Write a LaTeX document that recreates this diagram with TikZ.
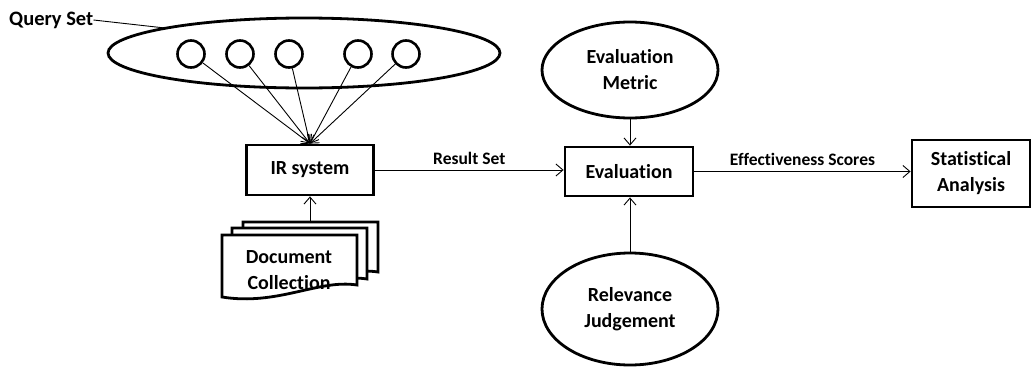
\documentclass[tikz,border=0pt]{standalone}
\usepackage{fontspec}
\setmainfont{Carlito}[Ligatures=NoCommon]
\usetikzlibrary{shapes.geometric,arrows.meta}
\begin{document}
\begin{tikzpicture}[x=1pt,y=-1pt,
  every node/.style={font=\bfseries},
  box/.style={draw,line width=2.8pt,fill=white,align=center,inner sep=0pt},
  oval/.style={draw,ellipse,line width=2.8pt,align=center,inner sep=0pt},
  qc/.style={draw,circle,line width=2.6pt,minimum size=27pt,inner sep=0pt},
  conn/.style={line width=0.9pt,-{Straight Barb[length=7pt,width=12pt,line width=0.9pt]}},
  lbl/.style={font=\fontsize{17.5}{20}\selectfont\bfseries},
  big/.style={font=\fontsize{20}{26}\selectfont\bfseries},
  doc/.style={draw,line width=2.8pt,fill=white,line join=miter}]
\useasboundingbox (0,0) rectangle (1032,367);

% Query set
\node[oval,minimum width=392pt,minimum height=70pt] (qset) at (304,53) {};
\node[font=\fontsize{20.5}{24}\selectfont\bfseries,anchor=west,inner sep=0pt] (qlabel) at (9,20) {Query Set};
\coordinate (qtouch) at (165,28);
\draw[line width=0.9pt] (qlabel.east) -- (qtouch);

\node[qc] (c1) at (191,54) {};
\node[qc] (c2) at (240,54) {};
\node[qc] (c3) at (289,54) {};
\node[qc] (c4) at (358,54) {};
\node[qc] (c5) at (406,54) {};

% IR system
\node[box,big,minimum width=127pt,minimum height=50pt] (ir) at (310,170) {IR system};
\foreach \c in {c1,c2,c3,c4,c5}
  \draw[conn] (\c) -- (ir.north);

% Document collection
\draw[doc] (243,222) -- (378,222) -- (378,272) .. controls (340,266) and (300,292) .. (243,284) -- cycle;
\draw[doc] (232,228) -- (367,228) -- (367,279) .. controls (330,273) and (290,299) .. (232,291) -- cycle;
\draw[doc] (222,235) -- (357,235) -- (357,285) .. controls (318,279) and (278,306) .. (222,297) -- cycle;
\node[big,align=center,inner sep=0pt] (docs) at (289,270) {Document\\Collection};
\coordinate (doctop) at (310,222);
\draw[conn] (doctop) -- (ir.south);

% Evaluation
\node[box,big,minimum width=128pt,minimum height=49pt] (eval) at (629,171.5) {Evaluation};
\draw[conn] (ir.east) -- node[lbl,above=2pt] {Result Set} (eval.west |- ir.east);

\node[oval,big,minimum width=176pt,minimum height=96pt] (metric) at (630,70) {Evaluation\\Metric};
\draw[conn] (metric.south) -- (eval.north -| metric.south);

\node[oval,big,minimum width=176pt,minimum height=112pt] (rel) at (630,309) {Relevance\\Judgement};
\draw[conn] (rel.north) -- (eval.south -| rel.north);

% Statistical analysis
\node[box,big,minimum width=118pt,minimum height=67pt] (stat) at (971,173.5) {Statistical\\Analysis};
\draw[conn] (eval.east) -- node[lbl,above=2pt] {Effectiveness Scores} (stat.west |- eval.east);
\end{tikzpicture}
\end{document}
